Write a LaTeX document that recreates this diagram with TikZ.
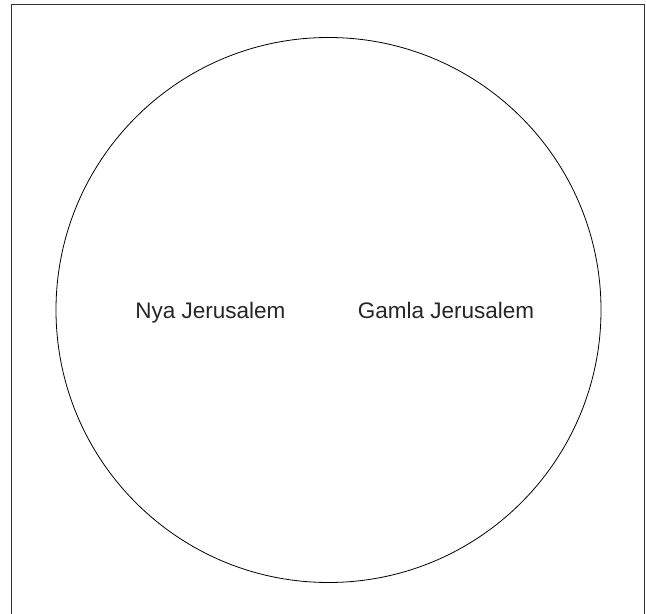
\documentclass[tikz,border=0pt]{standalone}
\usepackage{fontspec}
\setmainfont{Liberation Sans}
\begin{document}
\begin{tikzpicture}[x=1pt,y=1pt,
  lbl/.style={anchor=base,inner sep=0pt,font=\fontsize{22.5}{26}\selectfont,text=black!85}]
\useasboundingbox (0,0) rectangle (647,613);
\draw[line width=0.9pt,black!80] (11.5,-2) -- (11.5,608.5) -- (644.5,608.5) -- (644.5,-2);
\node[draw,circle,line width=0.8pt,minimum size=545pt,inner sep=0pt] (c) at (328.5,303) {};
\node[lbl] (nya) at (210.5,294) {Nya Jerusalem};
\node[lbl] (gamla) at (446,294) {Gamla Jerusalem};
\end{tikzpicture}
\end{document}
